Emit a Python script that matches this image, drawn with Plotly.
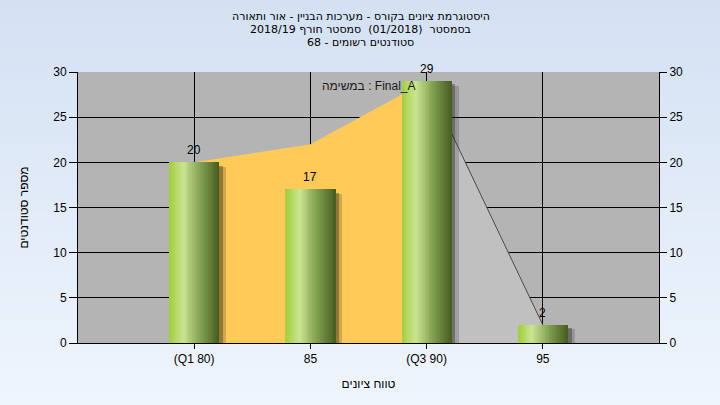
import plotly.graph_objects as go

# ---- data ----
grades = [80, 85, 90, 95]
tick_labels = ["(Q1 80)", "85", "(Q3 90)", "95"]
counts = [20, 17, 29, 2]
band_x = [80, 85, 90]
band_y = [20, 22, 29]
tail_x = [90, 95]
tail_y = [29, 2]
y_ticks = [0, 5, 10, 15, 20, 25, 30]
title_lines = [
    "היסטוגרמת ציונים בקורס - מערכות הבניין - אור ותאורה",
    "בסמסטר  (01/2018)  סמסטר חורף 2018/19",
    "סטודנטים רשומים - 68",
]
legend_text = "במשימה : Final_A"
x_title = "טווח ציונים"
y_title = "מספר סטודנטים"

FONT = "Liberation Sans"
W, H = 720, 405
ML, MR, MT, MB = 78, 61, 72, 62
PW, PH = W - ML - MR, H - MT - MB

fig = go.Figure()

# areas (main layer)
fig.add_trace(go.Scatter(x=band_x, y=band_y, mode="lines", fill="tozeroy",
                         fillcolor="#FFCA57", line=dict(width=0, color="#FFCA57"),
                         hoverinfo="skip", showlegend=False))
fig.add_trace(go.Scatter(x=tail_x, y=tail_y, mode="lines", fill="tozeroy",
                         fillcolor="#C0C0C0", line=dict(width=1, color="#4a4a4a"),
                         hoverinfo="skip", showlegend=False))

BW = 2.15
# shadows (upper layer)
for dx, drop, col in [(0.30, 0.5, "rgba(30,30,30,0.20)"), (0.16, 0.35, "rgba(30,30,30,0.35)")]:
    fig.add_trace(go.Bar(x=grades, y=[max(c - drop, 0) for c in counts], width=BW,
                         offset=-BW / 2 + dx, yaxis="y2",
                         marker=dict(color=col, line=dict(width=0)),
                         hoverinfo="skip", showlegend=False))

# gradient bar slices
stops = [(0.0, (160, 205, 58)), (0.28, (202, 229, 145)), (0.6, (135, 165, 85)), (1.0, (68, 92, 30))]


def grad(t):
    for (t0, c0), (t1, c1) in zip(stops[:-1], stops[1:]):
        if t <= t1:
            f = (t - t0) / (t1 - t0)
            return "rgb(%d,%d,%d)" % tuple(round(a + (b - a) * f) for a, b in zip(c0, c1))
    return "rgb(%d,%d,%d)" % stops[-1][1]


N = 26
sw = BW / N
for i in range(N):
    fig.add_trace(go.Bar(x=grades, y=counts, width=sw * 1.1, offset=-BW / 2 + i * sw,
                         yaxis="y2", marker=dict(color=grad((i + 0.5) / N), line=dict(width=0)),
                         hoverinfo="skip", showlegend=False))

# background gradient
shapes = []
top_c, bot_c = (212, 225, 243), (239, 245, 253)
NS = 40
y_lo, y_hi = -MB / PH, 1 + MT / PH
for k in range(NS):
    f = k / (NS - 1)
    col = "rgb(%d,%d,%d)" % tuple(round(a + (b - a) * f) for a, b in zip(top_c, bot_c))
    y1 = y_hi - (y_hi - y_lo) * k / NS
    y0 = y_hi - (y_hi - y_lo) * (k + 1) / NS
    shapes.append(dict(type="rect", xref="paper", yref="paper", x0=-ML / PW, x1=1 + MR / PW,
                       y0=y0 - 0.002, y1=y1 + 0.002, fillcolor=col, line=dict(width=0), layer="below"))
shapes.append(dict(type="rect", xref="paper", yref="paper", x0=0, x1=1, y0=0, y1=1,
                   fillcolor="#B4B4B4", line=dict(width=0), layer="below"))

annotations = []
for txt, ys in zip(title_lines, [56, 43, 30]):
    annotations.append(dict(text=txt, xref="paper", yref="paper", x=0.5 - 8 / PW, y=1,
                            yshift=ys, yanchor="middle", xanchor="center", showarrow=False,
                            font=dict(family="DejaVu Sans", size=11, color="#000000")))
annotations.append(dict(text=legend_text, xref="paper", yref="paper", x=0.5, y=1, yshift=-14,
                        yanchor="middle", xanchor="center", showarrow=False,
                        font=dict(family=FONT, size=12, color="#1a1a1a")))
# value labels
for g, c in zip(grades, counts):
    annotations.append(dict(text=str(c), x=g, y=c, xref="x", yref="y2", yshift=12,
                            yanchor="middle", xanchor="center", showarrow=False,
                            font=dict(family=FONT, size=12, color="#000000")))

axis_font = dict(family=FONT, size=12, color="#000000")
fig.update_layout(
    width=W, height=H, margin=dict(l=ML, r=MR, t=MT, b=MB),
    paper_bgcolor="#e4edf8", plot_bgcolor="rgba(0,0,0,0)",
    barmode="overlay", bargap=0, shapes=shapes, annotations=annotations,
    xaxis=dict(range=[75, 100], tickvals=grades, ticktext=tick_labels, showgrid=True,
               gridcolor="#000000", gridwidth=1, zeroline=False, showline=True,
               linecolor="#000000", linewidth=1, ticks="outside", ticklen=5,
               tickcolor="#000000", tickfont=axis_font, mirror=False,
               title=dict(text=x_title, font=axis_font, standoff=14)),
    yaxis=dict(range=[0, 30], tickvals=y_ticks, showgrid=True, gridcolor="#000000",
               gridwidth=1, zeroline=False, showline=True, linecolor="#000000",
               ticks="outside", ticklen=8, tickcolor="#000000", tickfont=axis_font,
               title=dict(text=y_title, font=axis_font, standoff=22)),
    yaxis2=dict(range=[0, 30], tickvals=y_ticks, overlaying="y", side="right",
                showgrid=False, zeroline=False, showline=True, linecolor="#000000",
                ticks="outside", ticklen=7, tickcolor="#000000", tickfont=axis_font),
)

fig.write_html("out.html", config={"displayModeBar": False, "staticPlot": True},
               post_script="document.body.style.margin='0';document.body.style.overflow='hidden';")
